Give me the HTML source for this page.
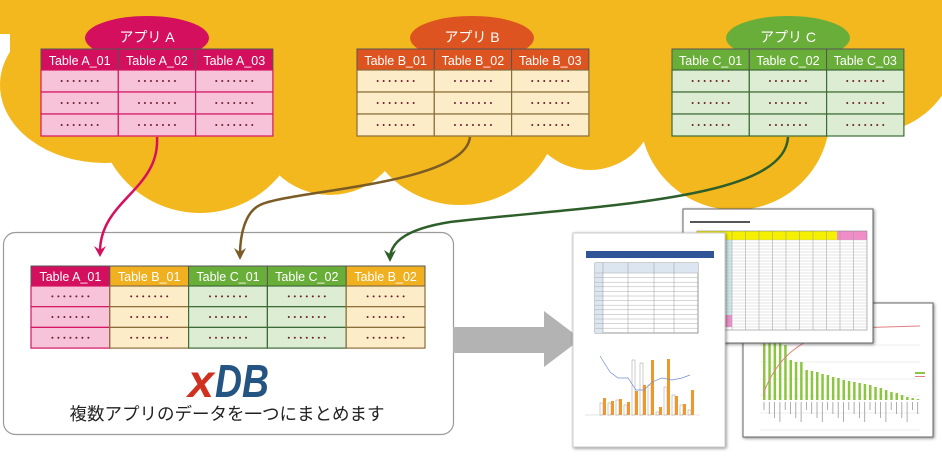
<!DOCTYPE html>
<html><head><meta charset="utf-8">
<style>
html,body{margin:0;padding:0;background:#fff;width:942px;height:456px;overflow:hidden}
svg{display:block}
text{font-family:"Liberation Sans","Noto Sans CJK JP",sans-serif}
</style></head>
<body>
<svg id="s" width="942" height="456" viewBox="0 0 942 456" xmlns="http://www.w3.org/2000/svg">
<defs>
<filter id="sh" x="-10%" y="-10%" width="120%" height="120%"><feDropShadow dx="1" dy="1" stdDeviation="1.5" flood-color="#000" flood-opacity="0.45"/></filter>
</defs>
<!-- cloud -->
<g fill="#F3B81E">
<rect x="0" y="0" width="942" height="34"/>
<rect x="10" y="20" width="900" height="80"/>
<ellipse cx="105" cy="85" rx="105" ry="78"/>
<circle cx="200" cy="110" r="103"/>
<circle cx="330" cy="120" r="75"/>
<circle cx="460" cy="105" r="100"/>
<circle cx="590" cy="105" r="65"/>
<circle cx="735" cy="115" r="95"/>
<circle cx="870" cy="45" r="88"/>
<rect x="880" y="0" width="62" height="90"/>
</g>
<g id="tables"></g>
<!-- bottom box -->
<rect x="3.5" y="232.5" width="450" height="202" rx="12" fill="#fff" stroke="#9a9a9a" stroke-width="1.2"/>
<g id="btable"></g>
<!-- connectors -->
<path d="M157,137 C160,190 100,200 100,252" stroke="#D6105E" stroke-width="2.5" fill="none"/>
<path d="M94,246 L100,257 L106,246 L100,250 Z" fill="#D6105E"/>
<path d="M470,137 C465,185 290,190 260,205 C245,212 240,235 240,255" stroke="#7B5C26" stroke-width="2.5" fill="none"/>
<path d="M234,248 L240,260 L246,248 L240,252 Z" fill="#7B5C26"/>
<path d="M788,137 C785,200 600,205 450,222 C400,230 392,245 390,256" stroke="#2E5E2A" stroke-width="2.5" fill="none"/>
<path d="M384,250 L390,262 L396,250 L390,254 Z" fill="#2E5E2A"/>
<text x="188" y="397" font-size="46" font-weight="bold" font-style="italic" fill="#D03020" style="font-family:'Liberation Sans',sans-serif" textLength="26" lengthAdjust="spacingAndGlyphs">x</text>
<text x="215" y="397" font-size="46" font-weight="bold" font-style="italic" fill="#245582" style="font-family:'Liberation Sans',sans-serif" textLength="54" lengthAdjust="spacingAndGlyphs">DB</text>
<text x="227" y="420" font-size="17.5" fill="#222" text-anchor="middle">複数アプリのデータを一つにまとめます</text>
<!-- gray arrow -->
<path d="M453,327 L544,327 L544,311 L581,339 L544,367 L544,353 L453,353 Z" fill="#B3B3B3"/>
<g id="docs"></g>
</svg>
<script>
var S=document.getElementById('s'),NS='http://www.w3.org/2000/svg';
function el(p,t,a,tx){var e=document.createElementNS(NS,t);for(var k in a)e.setAttribute(k,a[k]);if(tx!=null)e.textContent=tx;p.appendChild(e);return e}
var T=document.getElementById('tables');
function table(g,x0,y0,cw,hh,rh,cols){
 cols.forEach(function(c,i){var x=x0+i*cw;
  el(g,'rect',{x:x,y:y0,width:cw,height:hh,fill:c.h,stroke:'#555','stroke-width':1});
  el(g,'text',{x:x+cw/2,y:y0+hh-5,'font-size':12.5,fill:'#fff','text-anchor':'middle'},c.t);
  for(var r=0;r<3;r++){el(g,'rect',{x:x,y:y0+hh+r*rh,width:cw,height:rh,fill:c.b,stroke:c.s,'stroke-width':1.2});
   for(var d=0;d<7;d++)el(g,'circle',{cx:x+cw/2-18+d*6,cy:y0+hh+r*rh+rh/2,r:1,fill:'#6B1A2A'});}
 });}
var A={h:'#D40F5E',b:'#F6C3D8',s:'#D41663'},B={h:'#DE5420',b:'#FCEDC8',s:'#8B6D3A'},C={h:'#6AAE3A',b:'#DDEDD3',s:'#3D6B35'},Y={h:'#F0B020',b:'#FCEDC8',s:'#8B6D3A'};
function app(cx,col,label){el(T,'ellipse',{cx:cx,cy:38,rx:62,ry:22,fill:col});el(T,'text',{x:cx,y:42,'font-size':14,fill:'#fff','text-anchor':'middle'},label);}
app(147,'#D40F5E','アプリ A');app(472,'#DE5420','アプリ B');app(788,'#6AAE3A','アプリ C');
function m(o,t){return {h:o.h,b:o.b,s:o.s,t:t}}
table(T,41,49,77.3,21,22,[m(A,'Table A_01'),m(A,'Table A_02'),m(A,'Table A_03')]);
table(T,357,49,77.3,21,22,[m(B,'Table B_01'),m(B,'Table B_02'),m(B,'Table B_03')]);
table(T,672,49,77.3,21,22,[m(C,'Table C_01'),m(C,'Table C_02'),m(C,'Table C_03')]);
table(document.getElementById('btable'),31,266,78.8,20,20.7,[m(A,'Table A_01'),m(Y,'Table B_01'),m(C,'Table C_01'),m(C,'Table C_02'),m(Y,'Table B_02')]);
var D=document.getElementById('docs');
el(D,'rect',{x:743,y:303,width:190,height:134,fill:'#fff',stroke:'#666',filter:'url(#sh)'});
for(var i=0;i<6;i++)el(D,'line',{x1:760,y1:345+i*17,x2:920,y2:345+i*17,stroke:'#ddd','stroke-width':0.6});
var hs=[70,70,70,65,55,40,38,38,30,29,28,26,25,23,22,20,19,18,17,16,15,13,12,10,8,7,5,3,2,1];
hs.forEach(function(h,i){el(D,'rect',{x:763+i*5.3,y:400-h,width:2.5,height:h,fill:'#8CC63F'});
 el(D,'line',{x1:764+i*5.3,y1:402,x2:764+i*5.3,y2:410+(i%4)*4,stroke:'#999','stroke-width':0.8});});
el(D,'path',{d:'M763,395 C775,360 800,335 850,328 L920,326',stroke:'#E08080',fill:'none','stroke-width':1});
el(D,'rect',{x:915,y:372,width:10,height:2,fill:'#8CC63F'});el(D,'rect',{x:915,y:376,width:10,height:1,fill:'#E08080'});
el(D,'rect',{x:683,y:209,width:190,height:134,fill:'#fff',stroke:'#666',filter:'url(#sh)'});
el(D,'rect',{x:690,y:221,width:60,height:2,fill:'#555'});
el(D,'rect',{x:697,y:231,width:140,height:9,fill:'#F5F000'});
el(D,'rect',{x:837,y:231,width:30,height:9,fill:'#F08CC8'});
el(D,'rect',{x:697,y:240,width:35,height:80,fill:'#CDEBEB'});
el(D,'rect',{x:697,y:315,width:35,height:12,fill:'#F08CC8'});
for(var r=0;r<30;r++)el(D,'line',{x1:697,y1:240+r*3,x2:867,y2:240+r*3,stroke:'#bbb','stroke-width':0.4});
for(var c=0;c<10;c++)el(D,'line',{x1:732+c*13.5,y1:231,x2:732+c*13.5,y2:330,stroke:'#999','stroke-width':0.5});
el(D,'rect',{x:697,y:231,width:170,height:99,fill:'none',stroke:'#888','stroke-width':0.6});
el(D,'rect',{x:573,y:233,width:152,height:214,fill:'#fff',stroke:'#ccc',filter:'url(#sh)'});
el(D,'rect',{x:586,y:251,width:128,height:7,fill:'#2F5597'});
el(D,'rect',{x:595,y:263,width:103,height:70,fill:'#fff',stroke:'#555','stroke-width':0.6});
el(D,'rect',{x:595,y:263,width:103,height:10,fill:'#DCE6F1'});
el(D,'rect',{x:595,y:273,width:8,height:60,fill:'#DCE6F1'});
for(var r=0;r<13;r++)el(D,'line',{x1:595,y1:273+r*4.6,x2:698,y2:273+r*4.6,stroke:'#999','stroke-width':0.4});
[603,628,654,674].forEach(function(x){el(D,'line',{x1:x,y1:263,x2:x,y2:333,stroke:'#999','stroke-width':0.5})});
el(D,'line',{x1:585,y1:415,x2:700,y2:415,stroke:'#ccc','stroke-width':0.5});
var g1=[12,12,15,10,55,52,30,3,28,20,10,5],o1=[17,14,16,13,24,30,55,8,56,19,11,25];
g1.forEach(function(h,i){var x=600+i*8;el(D,'rect',{x:x,y:415-h,width:3,height:h,fill:'#fff',stroke:'#999','stroke-width':0.5});
el(D,'rect',{x:x+3,y:415-o1[i],width:3,height:o1[i],fill:'#F0962A'});});
el(D,'path',{d:'M600,356 L610,372 L618,378 L628,378 L636,390 L644,390 L652,382 L662,378 L672,380 L682,378 L690,375',stroke:'#7090D0',fill:'none','stroke-width':0.7});
</script>
</body></html>
